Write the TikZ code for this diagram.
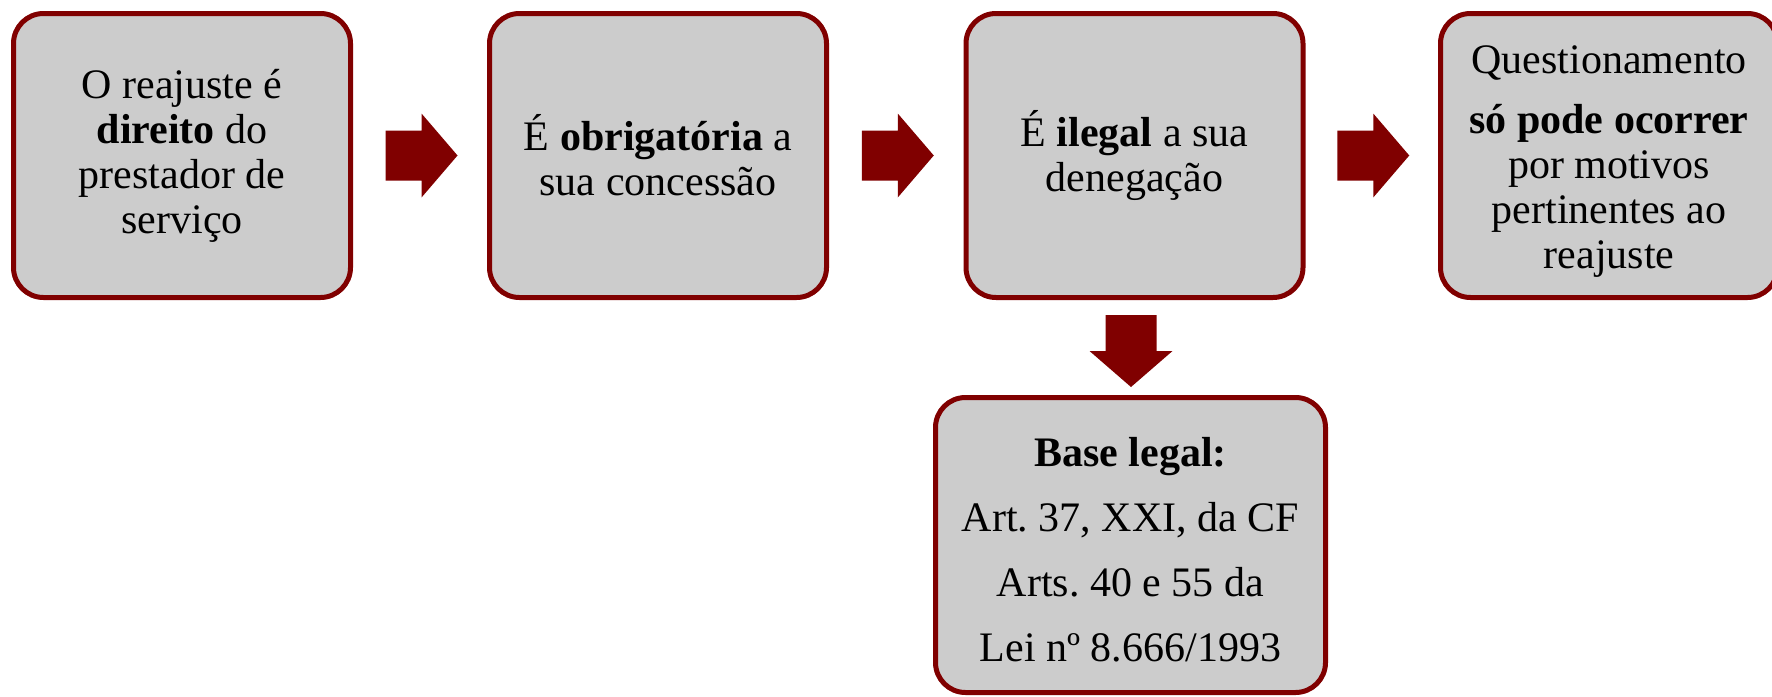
\documentclass[tikz,border=0pt]{standalone}
\usepackage{fontspec}
\setmainfont{Liberation Serif}
\usetikzlibrary{calc}
\definecolor{dred}{HTML}{800000}
\definecolor{boxgray}{HTML}{CCCCCC}
\frenchspacing
\begin{document}
\begin{tikzpicture}[x=0.5pt,y=-0.5pt,
  infobox/.style={draw=dred, line width=2.5pt, fill=boxgray, rounded corners=15pt,
    minimum width=168.5pt, minimum height=142pt, inner sep=0pt, align=center,
    font=\fontsize{21}{22.5}\selectfont\frenchspacing},
  basebox/.style={infobox, minimum width=195pt, minimum height=147.5pt,
    font=\fontsize{21}{32.5}\selectfont\frenchspacing},
  rarrow/.pic={\fill[dred] (-36,-25) -- (0,-25) -- (0,-42) -- (36,0) -- (0,42) -- (0,25) -- (-36,25) -- cycle;},
  darrow/.pic={\fill[dred] (-25.5,-36) -- (25.5,-36) -- (25.5,0) -- (41.5,0) -- (0,36) -- (-41.5,0) -- (-25.5,0) -- cycle;}
]
\useasboundingbox (0,0) rectangle (1772,696);
\node[infobox] (b1) at (182,155.5) {O reajuste é\\\textbf{direito} do\\prestador de\\serviço};
\node[infobox] (b2) at (658,155.5) {É \textbf{obrigatória} a\\sua concessão};
\node[infobox] (b3) at (1134.5,155.5) {É \textbf{ilegal} a sua\\denegação};
\node[infobox] (b4) at (1609,155.5) {\rule{0pt}{20pt}Questionamento\\[7.5pt]\textbf{só pode ocorrer}\\por motivos\\pertinentes ao\\reajuste};
\node[basebox] (b5) at (1130.5,545) {\rule{0pt}{19.3pt}\textbf{Base legal:}\\Art. 37, XXI, da CF\\Arts. 40 e 55 da\\Lei nº 8.666/1993};
\pic at ($(b1.east)!0.5!(b2.west)+(1.5,0)$) {rarrow};
\pic at ($(b2.east)!0.5!(b3.west)+(1.5,0)$) {rarrow};
\pic at ($(b3.east)!0.5!(b4.west)+(1.5,0)$) {rarrow};
\pic at ($(b3.south)!0.5!(b5.north)+(-1.5,3.5)$) {darrow};
\end{tikzpicture}
\end{document}
